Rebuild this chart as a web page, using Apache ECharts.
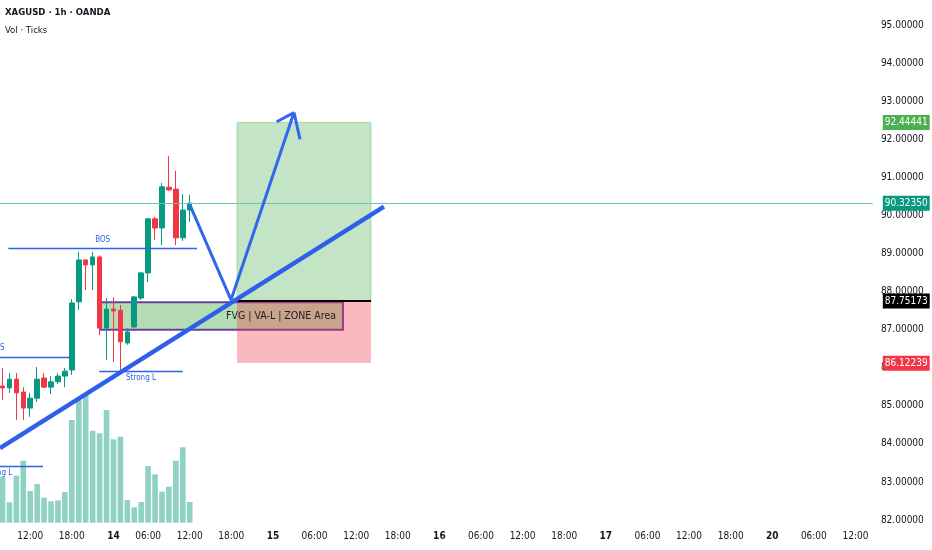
<!DOCTYPE html>
<html><head><meta charset="utf-8">
<script src="https://cdn.jsdelivr.net/npm/echarts@6/dist/echarts.min.js"></script>
<style>html,body{margin:0;padding:0;background:#fff}#c{width:932px;height:550px}</style>
</head><body><div id="c"></div>
<script>
const FONT = "'Liberation Sans Narrow','DejaVu Sans Condensed','Liberation Sans',sans-serif";

// hourly candle slots (x positions in bar units)
const candleSlots = [0,1,2,3,4,5,6,7,8,9,10,11,12,13,14,15,16,17,18,19,20,21,22,23,24,25,26,27];
const opens  = [85.52,85.47,85.70,85.36,84.94,85.20,85.73,85.49,85.63,85.78,85.94,87.73,88.83,88.70,88.91,87.04,87.54,87.51,86.65,87.07,87.83,88.49,89.91,89.67,90.74,90.69,89.41,90.14];
const closes = [85.47,85.70,85.34,84.94,85.20,85.70,85.49,85.63,85.78,85.91,87.70,88.83,88.70,88.91,87.04,87.54,87.49,86.68,86.94,87.86,88.49,89.91,89.67,90.75,90.67,89.41,90.14,90.3235];
const lows   = [85.15,85.34,84.63,84.63,84.71,85.10,85.47,85.31,85.57,85.49,85.81,87.52,88.04,88.04,86.86,86.20,86.15,85.93,86.60,87.04,87.78,88.25,89.35,89.22,90.65,89.22,89.33,89.83];
const highs  = [85.99,85.86,85.86,85.49,85.34,86.02,85.86,85.78,85.86,85.99,87.80,89.04,88.85,89.04,88.95,87.83,87.85,87.65,87.04,87.88,88.51,89.93,89.96,90.85,91.56,91.17,90.56,90.54];
const volumes = [2300,1020,2350,3100,1585,1935,1250,1070,1120,1535,5135,6135,6470,4600,4470,5635,4170,4300,1135,770,1035,2835,2420,1550,1800,3100,3770,1035];

// time axis tick labels
const xTickSlots  = [4,10,16,21,27,33,39,45,51,57,63,69,75,81,87,93,99,105,111,117,123];
const xTickLabels = ['12:00','18:00','14','06:00','12:00','18:00','15','06:00','12:00','18:00','16','06:00','12:00','18:00','17','06:00','12:00','18:00','20','06:00','12:00'];

// price levels
const lastPrice = 90.32350;
const targetPrice = 92.44441;
const entryPrice = 87.75173;
const stopPrice = 86.12239;
const zoneSlots = [33.82, 53.14];

// FVG box
const fvgSlots = [14.06, 49.1];
const fvgPrices = [87.72, 87.00];
const fvgText = 'FVG | VA-L | ZONE Area';

// drawings
const trendLine = [[-0.36, 83.89], [55.01, 90.23]];
const zigzag = [[27.04, 90.27], [32.95, 87.78], [42.04, 92.70]];
const arrowWingLeft = [[39.54, 92.46], [42.04, 92.70]];
const arrowWingRight = [[42.90, 92.00], [42.04, 92.70]];
const bosLevels = [[0.84, 28.05, 89.13], [-11.2, 9.64, 86.28]];
const strongLLevels = [[13.96, 25.99, 85.92], [-7.36, 5.85, 83.42]];

const candleData = candleSlots.map((s, i) => [s, opens[i], closes[i], lows[i], highs[i]]);
const volData = candleSlots.map((s, i) => [s, volumes[i]]);

const chart = echarts.init(document.getElementById('c'), null, {renderer: 'canvas'});

const tagLabel = (price, bg) => ({show: true, position: 'end', distance: 10, formatter: price.toFixed(5),
  color: '#fff', backgroundColor: bg, padding: [3, 2, 2, 2], fontFamily: FONT, fontSize: 10});
const tag = (price, bg) => ({
  yAxis: price,
  lineStyle: {color: 'rgba(0,0,0,0)', width: 0},
  label: tagLabel(price, bg)
});

const blue = '#2d62ee';

const option = {
  animation: false,
  backgroundColor: '#fff',
  title: {
    text: 'XAGUSD · 1h · OANDA', subtext: 'Vol · Ticks', left: 5, top: 8, itemGap: 8, padding: 0,
    textStyle: {fontFamily: FONT, fontSize: 9.5, fontWeight: 'bold', color: '#131722'},
    subtextStyle: {fontFamily: FONT, fontSize: 9.5, color: '#131722'}
  },
  grid: [
    {left: -84.2, right: 59.2, top: -13.08, bottom: -8.12, containLabel: false, outerBoundsMode: 'none'},
    {left: -84.2, right: 59.2, top: 322.7, bottom: 27.3, containLabel: false, outerBoundsMode: 'none'}
  ],
  xAxis: [
    {type: 'value', gridIndex: 0, min: -12.5, max: 125.5, show: false},
    {type: 'value', gridIndex: 1, min: -12.5, max: 125.5,
      axisLine: {show: false}, axisTick: {show: false}, splitLine: {show: false},
      axisLabel: {
        customValues: xTickSlots, margin: 9, fontFamily: FONT, fontSize: 10, color: '#131722',
        formatter: v => {
          const i = xTickSlots.indexOf(v);
          if (i < 0) return '';
          const t = xTickLabels[i];
          return t.indexOf(':') < 0 ? '{d|' + t + '}' : t;
        },
        rich: {d: {fontFamily: FONT, fontSize: 10, fontWeight: 'bold', color: '#131722'}}
      }}
  ],
  yAxis: [
    {type: 'value', gridIndex: 0, position: 'right', min: 81, max: 96, interval: 1,
      axisLine: {show: false}, axisTick: {show: false}, splitLine: {show: false},
      axisLabel: {margin: 51, align: 'right', fontFamily: FONT, fontSize: 10, color: '#131722',
        formatter: v => (v >= 82 && v <= 95) ? v.toFixed(5) : ''}},
    {type: 'value', gridIndex: 1, min: 0, max: 10000, show: false}
  ],
  series: [
    {type: 'bar', name: 'Vol', xAxisIndex: 1, yAxisIndex: 1, data: volData, barWidth: 5.6,
      itemStyle: {color: '#8fd2c3'}, z: 1},
    {type: 'line', name: 'fvg', xAxisIndex: 0, yAxisIndex: 0, data: [], z: 2,
      markArea: {silent: true,
        itemStyle: {color: 'rgba(76,175,80,0.42)', borderColor: '#6b3fa3', borderWidth: 2},
        data: [[{coord: [fvgSlots[0], fvgPrices[0]]}, {coord: [fvgSlots[1], fvgPrices[1]]}]]}},
    {type: 'line', name: 'zones', xAxisIndex: 0, yAxisIndex: 0, data: [], z: 3,
      markArea: {silent: true, data: [
        [{coord: [zoneSlots[0], targetPrice], itemStyle: {color: 'rgba(76,175,80,0.33)', borderColor: 'rgba(76,175,80,0.45)', borderWidth: 0.8}},
         {coord: [zoneSlots[1], entryPrice]}],
        [{coord: [zoneSlots[0], entryPrice], itemStyle: {color: 'rgba(242,54,69,0.35)'}},
         {coord: [zoneSlots[1], stopPrice]}]
      ]},
      markLine: {silent: true, symbol: ['none', 'none'],
        lineStyle: {color: '#6cc3b3', width: 1, type: 'solid'},
        label: {show: false},
        data: [{yAxis: lastPrice}]}},
    {type: 'candlestick', name: 'XAGUSD', xAxisIndex: 0, yAxisIndex: 0, data: candleData,
      encode: {x: 0, y: [1, 2, 3, 4]}, barWidth: 5, z: 4,
      itemStyle: {color: '#089981', color0: '#f23645', borderColor: '#089981', borderColor0: '#f23645', borderWidth: 1}},
    {type: 'line', name: 'drawings', xAxisIndex: 0, yAxisIndex: 0, data: [], z: 5,
      markLine: {silent: true, symbol: ['none', 'none'], data: [
        [{coord: [zoneSlots[0], entryPrice], lineStyle: {color: '#000', width: 2, type: 'solid'}, label: {show: false}},
         {coord: [zoneSlots[1], entryPrice]}],
        ...bosLevels.map(b => [
          {coord: [b[0], b[2]], lineStyle: {color: blue, width: 1.4, type: 'solid'},
            label: {show: true, formatter: 'BOS', position: 'middle', color: blue, fontFamily: FONT, fontSize: 8,
              backgroundColor: '#fff', padding: [0, 3]}},
          {coord: [b[1], b[2]]}]),
        ...strongLLevels.map(b => [
          {coord: [b[0], b[2]], lineStyle: {color: blue, width: 1.4, type: 'solid'},
            label: {show: true, formatter: 'Strong L', position: 'insideMiddleBottom', distance: 3, color: blue, fontFamily: FONT, fontSize: 8}},
          {coord: [b[1], b[2]]}])
      ]}},
    {type: 'line', name: 'trend', xAxisIndex: 0, yAxisIndex: 0, data: trendLine, symbol: 'none', z: 6,
      lineStyle: {color: '#2f5fe8', width: 4.5}},
    {type: 'line', name: 'path', xAxisIndex: 0, yAxisIndex: 0, data: zigzag, symbol: 'none', z: 6,
      lineStyle: {color: '#2f68ee', width: 3}},
    {type: 'line', name: 'wingL', xAxisIndex: 0, yAxisIndex: 0, data: arrowWingLeft, symbol: 'none', z: 6,
      lineStyle: {color: '#2f68ee', width: 3}},
    {type: 'line', name: 'wingR', xAxisIndex: 0, yAxisIndex: 0, data: arrowWingRight, symbol: 'none', z: 6,
      lineStyle: {color: '#2f68ee', width: 3}},
    {type: 'line', name: 'texts', xAxisIndex: 0, yAxisIndex: 0, data: [], z: 7,
      markArea: {silent: true, itemStyle: {color: 'rgba(0,0,0,0)'},
        data: [[{coord: [fvgSlots[0], fvgPrices[0]]}, {coord: [fvgSlots[1], fvgPrices[1]]}]],
        label: {show: true, formatter: fvgText, position: 'insideRight', distance: 7,
          color: '#1e1e1e', fontFamily: FONT, fontSize: 10.5}},
      markLine: {silent: true, symbol: ['none', 'none'], data: [
        tag(targetPrice, '#4caf50'), tag(lastPrice, '#089981'), tag(entryPrice, '#000000'), tag(stopPrice, '#f23645')
      ]}}
  ]
};
chart.setOption(option);
</script>
</body></html>
